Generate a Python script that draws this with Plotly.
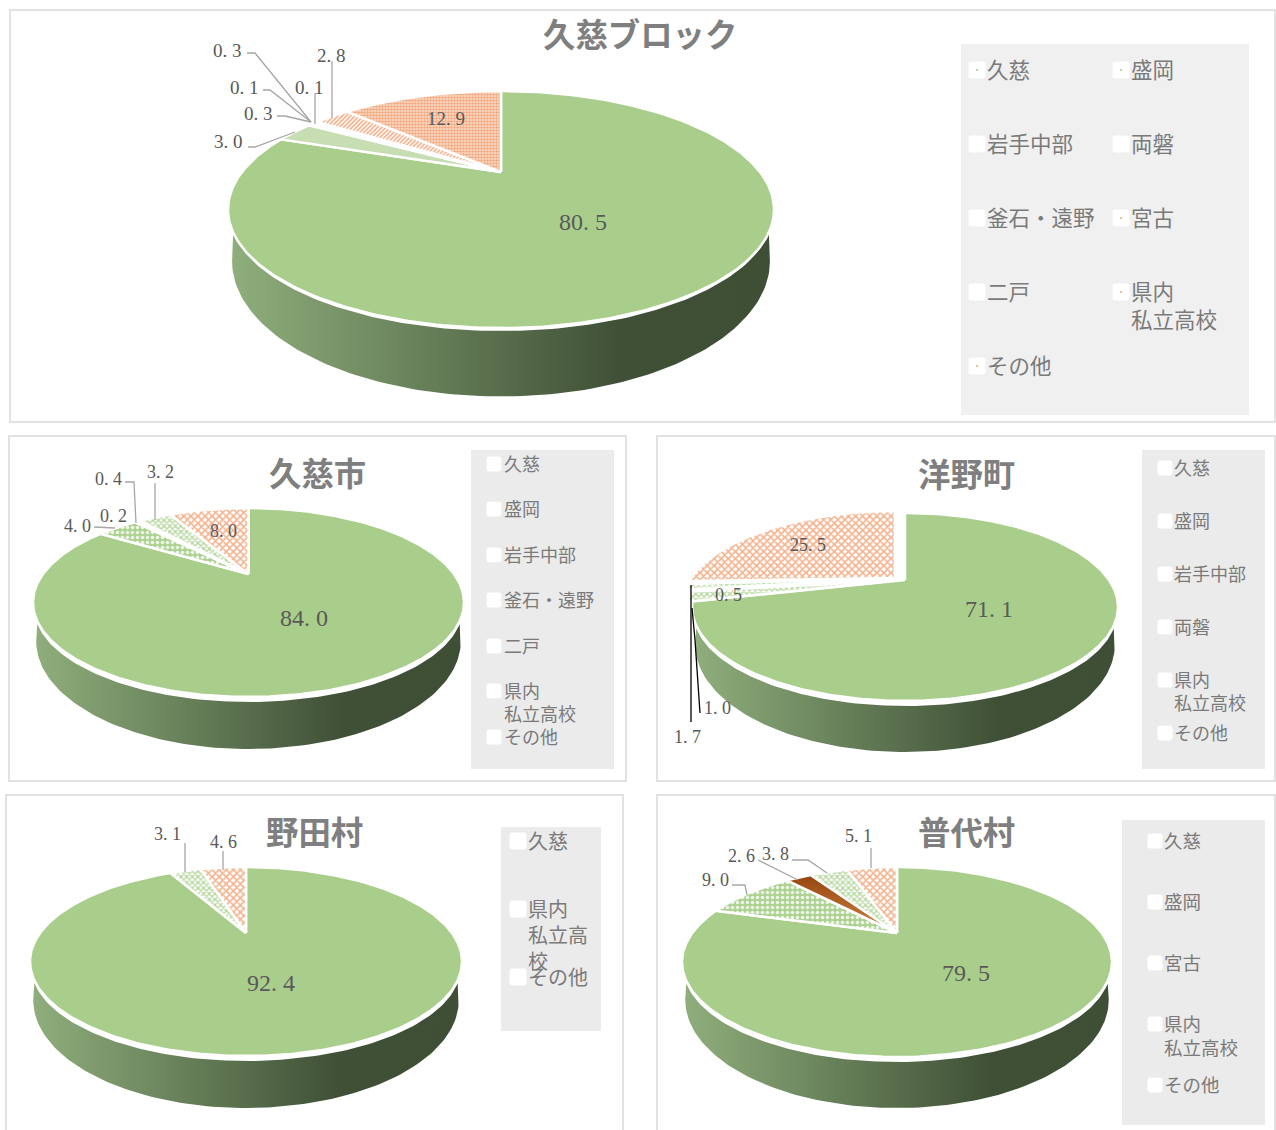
import math
import plotly.graph_objects as go

# ---------- data ----------
block_values = [80.5, 3.0, 0.3, 0.1, 0.3, 0.1, 2.8, 12.9]
kujishi_values = [84.0, 4.0, 0.2, 0.4, 3.2, 8.0]
hirono_values = [71.1, 1.7, 1.0, 0.5, 25.5]
noda_values = [92.4, 3.1, 4.6]
fudai_values = [79.5, 9.0, 2.6, 3.8, 5.1]

block_legend = ["久慈", "盛岡", "岩手中部", "両磐", "釜石・遠野", "宮古", "二戸", "県内<br>私立高校", "その他"]
kujishi_legend = ["久慈", "盛岡", "岩手中部", "釜石・遠野", "二戸", "県内<br>私立高校", "その他"]
hirono_legend = ["久慈", "盛岡", "岩手中部", "両磐", "県内<br>私立高校", "その他"]
noda_legend = ["久慈", "県内<br>私立高<br>校", "その他"]
fudai_legend = ["久慈", "盛岡", "宮古", "県内<br>私立高校", "その他"]

titles = ["久慈ブロック", "久慈市", "洋野町", "野田村", "普代村"]

# ---------- styles ----------
GREEN = "#a9ce8b"
ORANGE = "#f2a77a"
S = {
    "main": dict(fillcolor=GREEN),
    "pale": dict(fillcolor="#c6deb1"),
    "white": dict(fillcolor="#f4f8f0"),
    "fine": dict(fillpattern=dict(shape=".", fgcolor="#f2a97f", bgcolor="#fbe3d3", size=3, solidity=0.6, fgopacity=1)),
    "diag": dict(fillpattern=dict(shape="/", fgcolor="#f2ab82", bgcolor="#ffffff", size=3, solidity=0.5, fgopacity=1)),
    "dots": dict(fillpattern=dict(shape=".", fgcolor="#eef6e8", bgcolor="#add291", size=5, solidity=0.4, fgopacity=1)),
    "gchk": dict(fillpattern=dict(shape="x", fgcolor="#b3d69b", bgcolor="#ffffff", size=4, solidity=0.55, fgopacity=1)),
    "ochk": dict(fillpattern=dict(shape="x", fgcolor="#f4b28c", bgcolor="#ffffff", size=5, solidity=0.55, fgopacity=1)),
    "brown": dict(fillgradient=dict(type="vertical", colorscale=[[0, "#cf8440"], [1, "#96450f"]])),
}
SIDE_SCALE = [[0, "#8fae7c"], [0.72, "#3f5036"], [1, "#3f4f35"]]
TEXT = "#595959"
LEG = "#7a7a7a"
BORDER = "#d9d9d9"
SERIF = "Liberation Serif"
CJK = "Noto Sans CJK JP"

charts = [
    dict(values=block_values, styles=["main", "pale", "white", "white", "white", "white", "diag", "fine"],
         border=(10, 10, 1275, 422), cx=501, rx=273, top=91, bottom=328, apex=172, gap=3, side_bottom=396.5,
         title=(640, 32.5), labels=[(583, 222), (228, 141), (258, 113), (244, 87), (227, 50), (309, 87), (331, 55), (446, 118)],
         big=24, small=19, leaders=[None,
            [(248, 147), (255, 147), (295, 132)], [(277, 116), (285, 116), (311, 122)],
            [(263, 90), (270, 90), (311, 122)], [(247, 53), (255, 53), (311, 122)],
            [(315, 93), (315, 124)], [(332, 61), (332, 118)], None],
         leg=(961, 44, 1249, 415), leg_color="#f0f0f0", legend=block_legend, font=21.5, key=17, shifts={},
         rows=[(977, 985, 66), (1121, 1129, 66), (977, 985, 140), (1121, 1129, 140), (977, 985, 214),
               (1121, 1129, 214), (977, 985, 288), (1121, 1129, 288), (977, 985, 362)],
         keyrows=[70, 70, 144, 144, 218, 218, 292, 292, 366],
         dots=[GREEN, GREEN, None, None, None, ORANGE, None, ORANGE, ORANGE], line="#a6a6a6"),
    dict(values=kujishi_values, styles=["main", "dots", "white", "white", "gchk", "ochk"],
         border=(9, 436, 626, 781), cx=248.5, rx=215.5, top=508, bottom=697, apex=574, gap=5, side_bottom=749,
         title=(317, 471.5), labels=[(304, 618), (77, 526), (113, 516), (108, 479), (160, 472), (223, 531)],
         big=24, small=18, leaders=[None,
            [(94, 527), (115, 528)], None, [(125, 482), (134, 482), (136, 523)],
            [(155, 483), (155, 520)], None],
         leg=(471, 450, 614, 769), leg_color="#ebebeb", legend=kujishi_legend, font=18, key=15, shifts={},
         rows=[(494, 501.5, 461), (494, 501.5, 506), (494, 501.5, 552), (494, 501.5, 597), (494, 501.5, 643),
               (494, 501.5, 688), (494, 501.5, 734)],
         keyrows=[464, 509, 555, 600, 646, 691, 737],
         dots=[None] * 7, line="#a6a6a6"),
    dict(values=hirono_values, styles=["main", "gchk", "gchk", "gchk", "ochk"],
         border=(657, 436, 1275, 781), cx=905, rx=213, top=513, bottom=701, apex=580, gap=5, side_bottom=752,
         title=(966, 472.5), labels=[(989, 609), (687, 737), (717, 708), (728, 595), (808, 545)],
         big=24, small=18, leaders=[None,
            [(691, 722), (691, 585)], [(700, 713), (695, 640), (692, 608)], None, None],
         leg=(1142, 450, 1265, 769), leg_color="#ebebeb", legend=hirono_legend, font=18, key=15,
         shifts={1: (-4, 0), 2: (-8, -2), 3: (-8, -2), 4: (-10, -2)},
         rows=[(1165, 1172, 465), (1165, 1172, 518), (1165, 1172, 571), (1165, 1172, 624), (1165, 1172, 677),
               (1165, 1172, 730)],
         keyrows=[468, 521, 574, 627, 680, 733],
         dots=[None] * 6, line="#000000"),
    dict(values=noda_values, styles=["main", "gchk", "ochk"],
         border=(6, 795, 623, 1140), cx=246, rx=216, top=867, bottom=1056, apex=933, gap=5, side_bottom=1108,
         title=(314, 830.5), labels=[(271, 983), (167, 834), (223, 842)],
         big=24, small=18, leaders=[None, [(185, 843), (185, 872)], [(223, 851), (223, 870)]],
         leg=(501, 827, 601, 1031), leg_color="#ebebeb", legend=noda_legend, font=20, key=17, shifts={},
         rows=[(518, 525.5, 838), (518, 525.5, 906), (518, 525.5, 974)],
         keyrows=[841, 909, 977],
         dots=[None] * 3, line="#a6a6a6"),
    dict(values=fudai_values, styles=["main", "dots", "brown", "gchk", "ochk"],
         border=(657, 795, 1275, 1140), cx=897, rx=215, top=867, bottom=1057, apex=933, gap=5, side_bottom=1108,
         title=(966, 830.5), labels=[(966, 973), (715, 880), (741, 856), (775, 854), (858, 836)],
         big=24, small=18, leaders=[None,
            [(732, 885), (745, 885), (747, 895)], [(758, 860), (798, 880)],
            [(792, 860), (808, 860), (827, 873)], [(871, 848), (871, 868)]],
         leg=(1122, 820, 1265, 1125), leg_color="#ebebeb", legend=fudai_legend, font=18.5, key=15, shifts={},
         rows=[(1155, 1161.5, 838), (1155, 1161.5, 899), (1155, 1161.5, 960), (1155, 1161.5, 1021), (1155, 1161.5, 1082)],
         keyrows=[841, 902, 963, 1024, 1085],
         dots=[None] * 5, line="#a6a6a6"),
]

fig = go.Figure()
shapes, annotations = [], []


def rounded(x0, y0, x1, y1, r=3):
    return (f"M{x0+r},{y0} L{x1-r},{y0} Q{x1},{y0} {x1},{y0+r} L{x1},{y1-r} Q{x1},{y1} {x1-r},{y1} "
            f"L{x0+r},{y1} Q{x0},{y1} {x0},{y1-r} L{x0},{y0+r} Q{x0},{y0} {x0+r},{y0} Z")


def fmt(v):
    return f"{v:.1f}".replace(".", ". ")


for ci, c in enumerate(charts):
    x0, y0, x1, y1 = c["border"]
    shapes.append(dict(type="rect", xref="x", yref="y", x0=x0, y0=y0, x1=x1, y1=y1,
                       line=dict(color=BORDER, width=1.5), fillcolor="white", layer="below"))
    lx0, ly0, lx1, ly1 = c["leg"]
    shapes.append(dict(type="rect", xref="x", yref="y", x0=lx0, y0=ly0, x1=lx1, y1=ly1,
                       line=dict(width=0), fillcolor=c["leg_color"], layer="below"))

    cx, rx, top, bottom, apex = c["cx"], c["rx"], c["top"], c["bottom"], c["apex"]
    far, near = apex - top, bottom - apex
    k = (near - far) / (near + far)
    b = far * (1 + k)
    a = rx * math.sqrt(1 - k * k)
    cy, ry = (top + bottom) / 2, (bottom - top) / 2

    # side wall
    ry2 = ry * 1.14
    rx2, cy2 = rx * 0.985, c["side_bottom"] - ry2
    N = 120
    t0 = math.radians(10)
    up = [(cx + (rx - 1) * math.cos(math.pi - t0 - (math.pi - 2 * t0) * i / N),
           cy + c["gap"] + ry * math.sin(math.pi - t0 - (math.pi - 2 * t0) * i / N)) for i in range(N + 1)]
    lo = [(cx + rx2 * math.cos(math.pi * i / N), cy2 + ry2 * math.sin(math.pi * i / N)) for i in range(N + 1)]
    pts = up + lo
    fig.add_trace(go.Scatter(x=[p[0] for p in pts] + [pts[0][0]], y=[p[1] for p in pts] + [pts[0][1]],
                             mode="lines", line=dict(width=0), fill="toself",
                             fillgradient=dict(type="horizontal", colorscale=SIDE_SCALE),
                             hoverinfo="skip", showlegend=False))

    # top slices, clockwise from 12 o'clock
    total = sum(c["values"])
    acc = 0.0
    for si, v in enumerate(c["values"]):
        th0 = 2 * math.pi * acc / total
        th1 = 2 * math.pi * (acc + v) / total
        acc += v
        dx, dy = c["shifts"].get(si, (0, 0))
        n = max(3, int(v * 4))
        xs, ys = [cx + dx], [apex + dy]
        for i in range(n + 1):
            th = th0 + (th1 - th0) * i / n
            u, w = math.sin(th), math.cos(th)
            xs.append(cx + dx + a * u / (1 + k * w))
            ys.append(apex + dy - b * w / (1 + k * w))
        xs.append(cx + dx)
        ys.append(apex + dy)
        fig.add_trace(go.Scatter(x=xs, y=ys, mode="lines", line=dict(color="white", width=2.5), fill="toself",
                                 hoverinfo="skip", showlegend=False, **S[c["styles"][si]]))

    # leader lines and labels
    for si, v in enumerate(c["values"]):
        ld = c["leaders"][si]
        if ld:
            fig.add_trace(go.Scatter(x=[p[0] for p in ld], y=[p[1] for p in ld], mode="lines",
                                     line=dict(color=c["line"], width=1.3), hoverinfo="skip", showlegend=False))
        lx, ly = c["labels"][si]
        annotations.append(dict(x=lx, y=ly, text=fmt(v), showarrow=False, xanchor="center", yanchor="middle",
                                font=dict(family=SERIF, size=c["big"] if si == 0 else c["small"], color=TEXT)))

    # title
    tx, ty = c["title"]
    annotations.append(dict(x=tx, y=ty, text=f"<b>{titles[ci]}</b>", showarrow=False, xanchor="center",
                            yanchor="middle", font=dict(family=CJK, size=32.4, color="#7f7f7f")))

    # legend
    ks = c["key"]
    for name, (kx, tx, ky), kr, dot in zip(c["legend"], c["rows"], c["keyrows"], c["dots"]):
        shapes.append(dict(type="path", xref="x", yref="y", path=rounded(kx - ks / 2, kr - ks / 2, kx + ks / 2, kr + ks / 2),
                           line=dict(width=0), fillcolor="white", layer="below"))
        if dot:
            fig.add_trace(go.Scatter(x=[kx], y=[kr], mode="markers", marker=dict(size=2, color=dot),
                                     hoverinfo="skip", showlegend=False))
        annotations.append(dict(x=tx, y=ky - c["font"] * 0.72, text=name, showarrow=False, xanchor="left", yanchor="top",
                                align="left", font=dict(family=CJK, size=c["font"], color=LEG)))

fig.update_layout(
    width=1276, height=1130, margin=dict(l=0, r=0, t=0, b=0),
    paper_bgcolor="white", plot_bgcolor="white", showlegend=False,
    xaxis=dict(range=[0, 1276], visible=False, fixedrange=True),
    yaxis=dict(range=[1130, 0], visible=False, fixedrange=True),
    shapes=shapes, annotations=annotations,
)
fig.write_html("out.html", config=dict(displayModeBar=False),
               post_script="document.body.style.margin='0';document.body.style.overflow='hidden';")
